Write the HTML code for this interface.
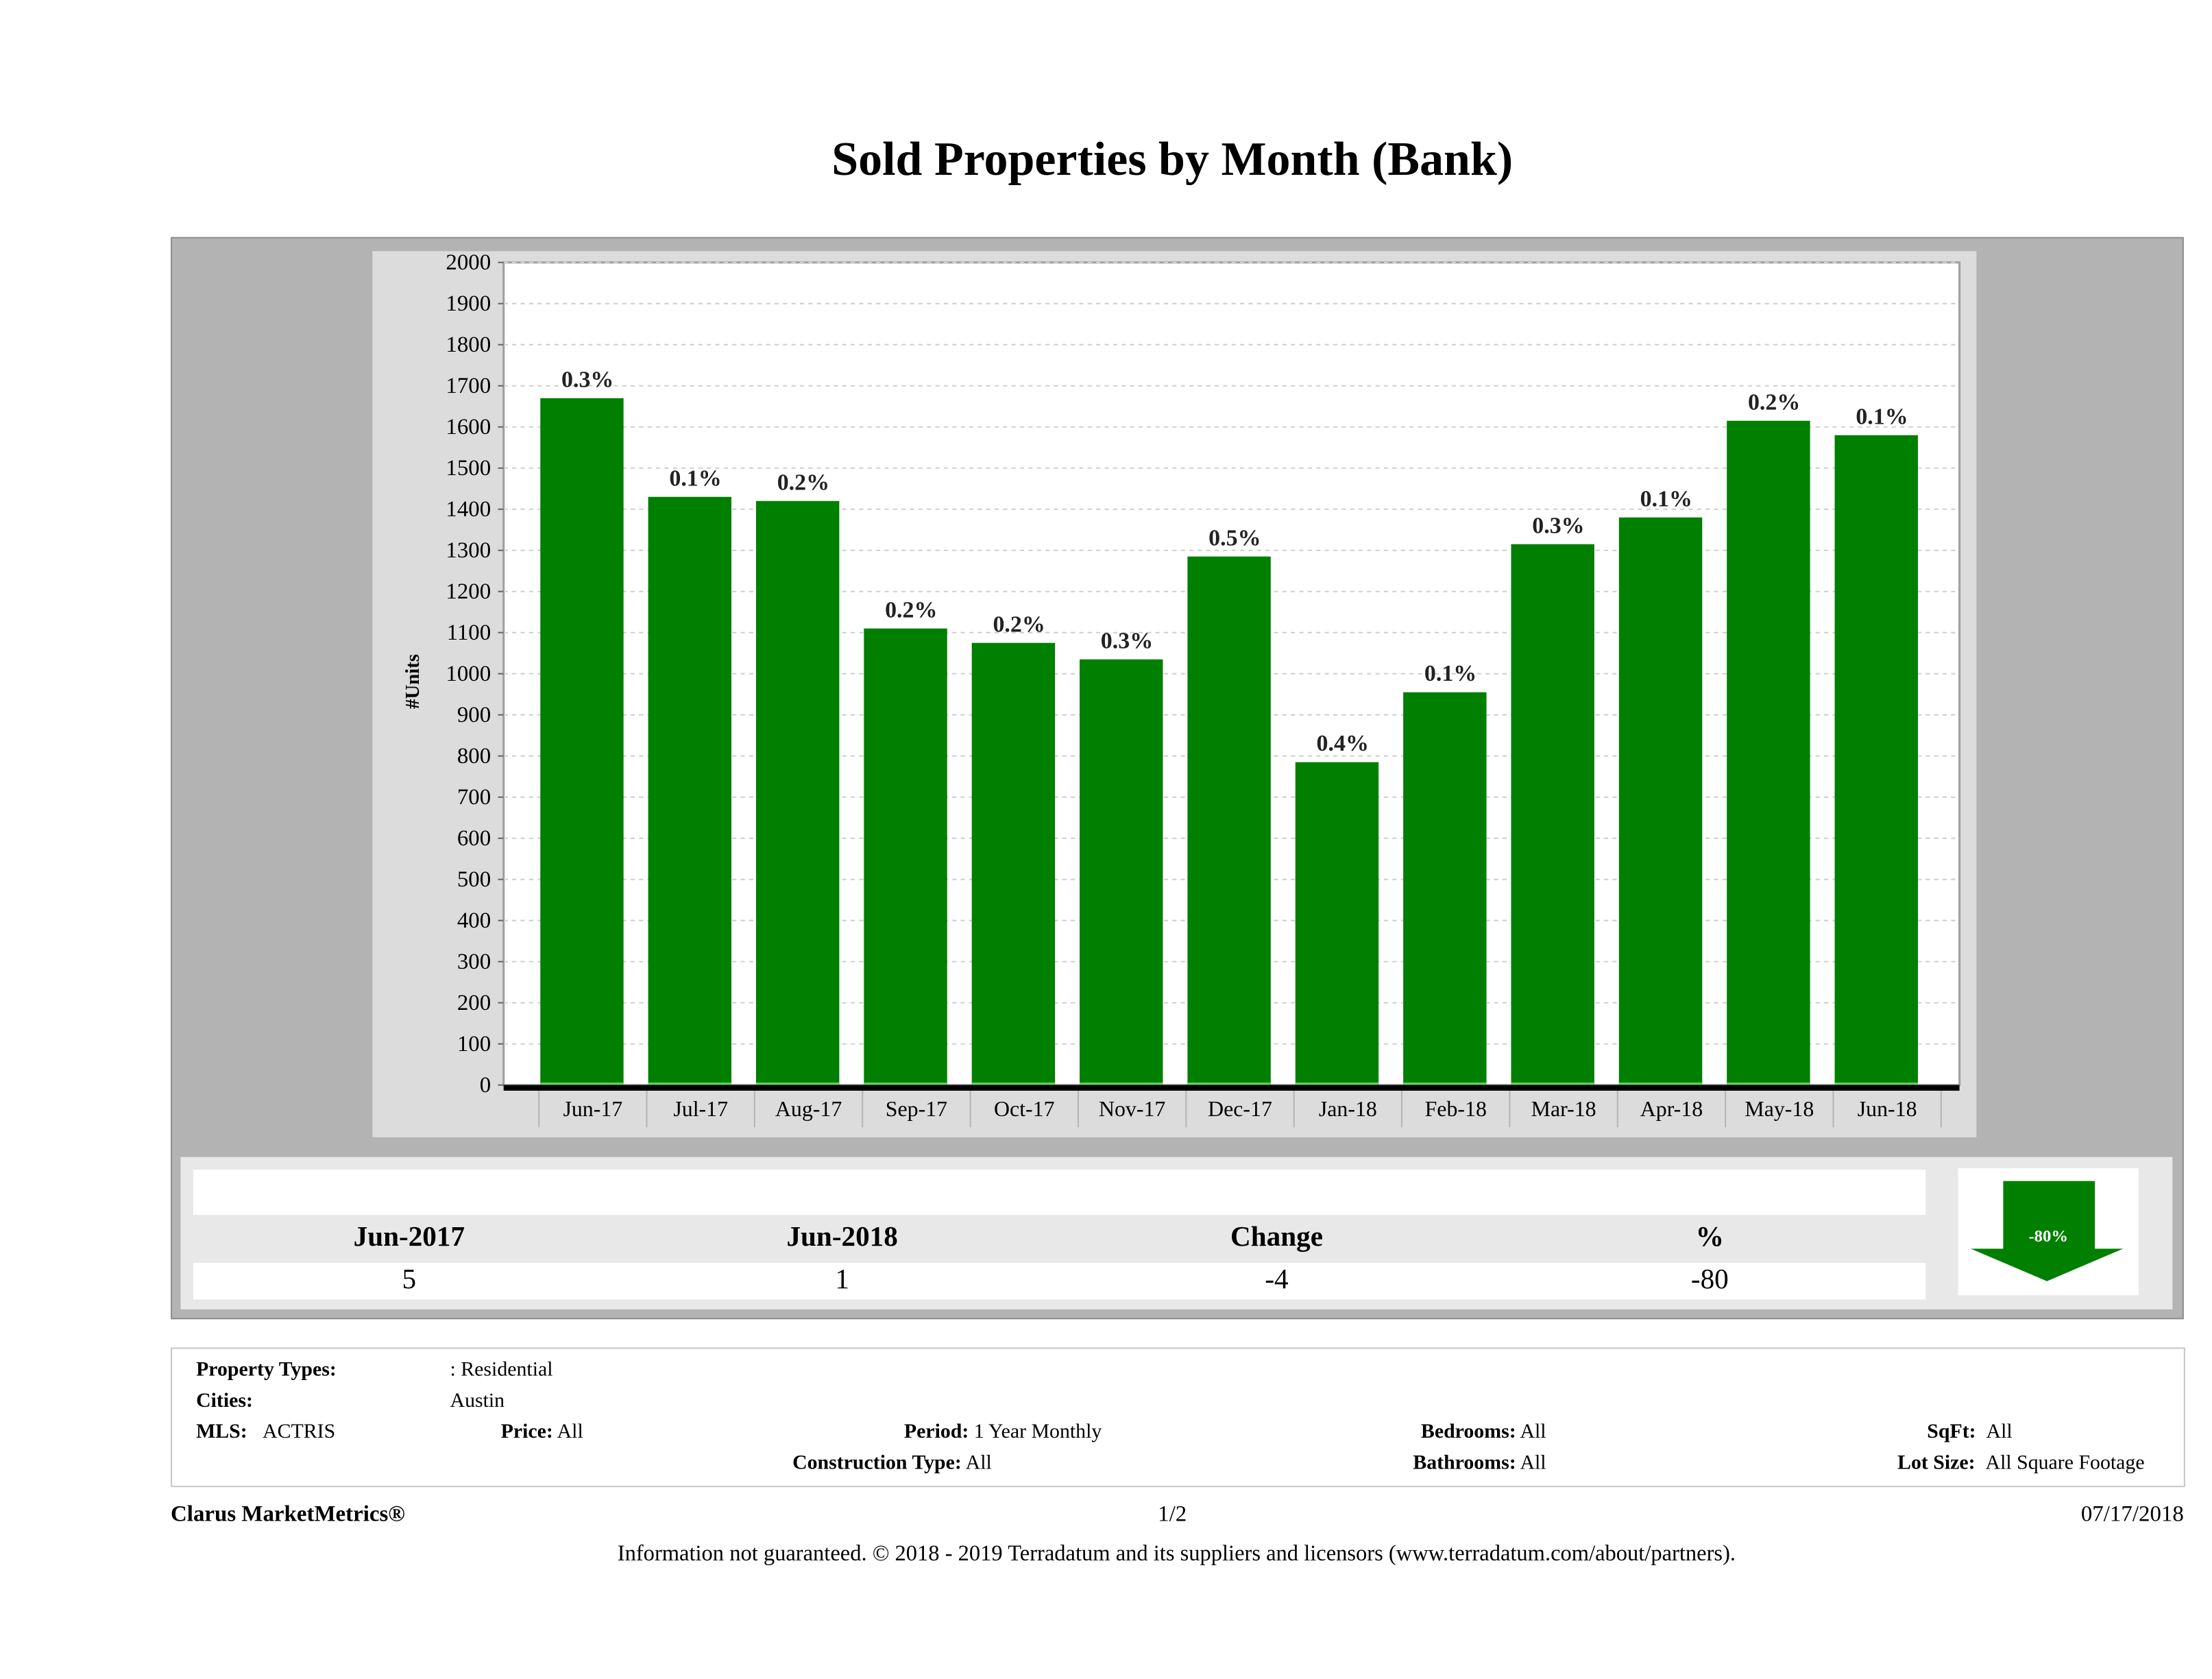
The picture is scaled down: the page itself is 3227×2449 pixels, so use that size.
<!DOCTYPE html>
<html><head><meta charset="utf-8">
<style>
html,body{margin:0;padding:0;background:#fff;}
body{width:3227px;height:2448px;overflow:hidden;position:relative;}
#stage{position:absolute;left:0;top:0;width:1568px;height:1190px;transform:scale(2.05804);transform-origin:0 0;font-family:"Liberation Serif",serif;color:#000;}
.abs{position:absolute;}
.info{position:absolute;font-size:14.5px;white-space:nowrap;}
.info b{font-weight:bold;}
</style></head>
<body>
<div id="stage">
  <div class="abs" style="left:0;width:1662px;top:95px;text-align:center;font-size:34px;font-weight:bold;">Sold Properties by Month (Bank)</div>

  <div class="abs" style="left:121px;top:168px;width:1425px;height:765px;background:#b3b3b3;border:1px solid #8f8f8f;"></div>
  <div class="abs" style="left:264px;top:178px;width:1137px;height:628px;background:#dcdcdc;"></div>

  <svg class="abs" style="left:0;top:0;" width="1568" height="820" id="chart"></svg>

  <div class="abs" style="left:128px;top:820px;width:1412px;height:108px;background:#e8e8e8;"></div>
  <div class="abs" style="left:137px;top:829px;width:1228px;height:32px;background:#fff;"></div>
  <div class="abs" style="left:137px;top:895px;width:1228px;height:26px;background:#fff;"></div>
  <div class="abs" style="left:190px;width:200px;top:866px;text-align:center;font-size:20px;font-weight:bold;">Jun-2017</div>
  <div class="abs" style="left:497px;width:200px;top:866px;text-align:center;font-size:20px;font-weight:bold;">Jun-2018</div>
  <div class="abs" style="left:805px;width:200px;top:866px;text-align:center;font-size:20px;font-weight:bold;">Change</div>
  <div class="abs" style="left:1112px;width:200px;top:866px;text-align:center;font-size:20px;font-weight:bold;">%</div>
  <div class="abs" style="left:190px;width:200px;top:896px;text-align:center;font-size:20px;">5</div>
  <div class="abs" style="left:497px;width:200px;top:896px;text-align:center;font-size:20px;">1</div>
  <div class="abs" style="left:805px;width:200px;top:896px;text-align:center;font-size:20px;">-4</div>
  <div class="abs" style="left:1112px;width:200px;top:896px;text-align:center;font-size:20px;">-80</div>

  <div class="abs" style="left:1388px;top:828px;width:128px;height:90px;background:#fff;"></div>
  <svg class="abs" style="left:1388px;top:828px;" width="128" height="90">
    <polygon points="32,9 97,9 97,57 117,57 63,80 9,57 32,57" fill="#007f00"/>
    <text x="64" y="52" text-anchor="middle" font-family="Liberation Serif,serif" font-size="12" font-weight="bold" fill="#fff">-80%</text>
  </svg>

  <div class="abs" style="left:121px;top:955px;width:1426px;height:97px;background:#fff;border:1px solid #c8c8c8;"></div>
  <div class="info" style="left:139px;top:963px;"><b>Property Types:</b></div>
  <div class="info" style="left:319px;top:963px;">: Residential</div>
  <div class="info" style="left:139px;top:985px;"><b>Cities:</b></div>
  <div class="info" style="left:319px;top:985px;">Austin</div>
  <div class="info" style="left:139px;top:1007px;"><b>MLS:</b>&nbsp;&nbsp;&nbsp;ACTRIS</div>
  <div class="info" style="left:355px;top:1007px;"><b>Price:</b> All</div>
  <div class="info" style="right:787px;top:1007px;"><b>Period:</b> 1 Year Monthly</div>
  <div class="info" style="right:865px;top:1029px;"><b>Construction Type:</b> All</div>
  <div class="info" style="right:472px;top:1007px;"><b>Bedrooms:</b> All</div>
  <div class="info" style="right:472px;top:1029px;"><b>Bathrooms:</b> All</div>
  <div class="info" style="left:1366px;top:1007px;"><b>SqFt:</b>&nbsp;&nbsp;All</div>
  <div class="info" style="left:1345px;top:1029px;"><b>Lot Size:</b>&nbsp;&nbsp;All Square Footage</div>

  <div class="info" style="left:121px;top:1065px;font-size:16px;"><b>Clarus MarketMetrics®</b></div>
  <div class="info" style="left:810px;width:42px;text-align:center;top:1065px;font-size:16px;">1/2</div>
  <div class="info" style="right:20px;top:1065px;font-size:16px;">07/17/2018</div>
  <div class="info" style="left:0;width:1668px;text-align:center;top:1093px;font-size:15.8px;">Information not guaranteed. © 2018 - 2019 Terradatum and its suppliers and licensors (www.terradatum.com/about/partners).</div>
</div>

<script>
const categories = ["Jun-17","Jul-17","Aug-17","Sep-17","Oct-17","Nov-17","Dec-17","Jan-18","Feb-18","Mar-18","Apr-18","May-18","Jun-18"];
const soldUnits = [1670,1430,1420,1110,1075,1035,1285,785,955,1315,1380,1615,1580];
const pctLabels = ["0.3%","0.1%","0.2%","0.2%","0.2%","0.3%","0.5%","0.4%","0.1%","0.3%","0.1%","0.2%","0.1%"];
const yTicks = [0,100,200,300,400,500,600,700,800,900,1000,1100,1200,1300,1400,1500,1600,1700,1800,1900,2000];

const NS = "http://www.w3.org/2000/svg";
const svg = document.getElementById('chart');
const plotL = 357, plotR = 1389, plotT = 186, plotB = 769;
const yMax = 2000;
const catL = 382, catR = 1376;
const step = (catR - catL) / categories.length;
const barW = 59;
function yScale(v){ return plotB - (v / yMax) * (plotB - plotT); }
function xLeft(i){ return catL + step * i; }
function mk(tag, attrs){ const e = document.createElementNS(NS, tag); for (const k in attrs) e.setAttribute(k, attrs[k]); svg.appendChild(e); return e; }

const plot = mk('rect', {x:plotL, y:plotT, width:plotR-plotL, height:plotB-plotT, fill:'#fff', stroke:'#a0a0a0', 'stroke-width':1.5});



yTicks.forEach(t => {
  const y = yScale(t);
  if (t > 0) {
    const g = mk('line', {x1:plotL, x2:plotR, y1:y, y2:y, stroke:'#cfcfcf', 'stroke-width':1, 'stroke-dasharray':'3,3'});
    
    
  }
  const tk = mk('line', {x1:plotL-4, x2:plotL, y1:y, y2:y, stroke:'#666', 'stroke-width':1});
  
  
  const tx = mk('text', {x:plotL-9, y:y+5, 'text-anchor':'end', 'font-family':'Liberation Serif,serif', 'font-size':16});
  tx.textContent = t;
  
  
});

const yt = mk('text', {x:0, y:0, transform:'translate(297,483) rotate(-90)', 'text-anchor':'middle', 'font-family':'Liberation Serif,serif', 'font-size':14, 'font-weight':'bold'});
yt.textContent = '#Units';



for (let i = 0; i <= categories.length; i++) {
  const x = catL + step * i;
  const s = mk('line', {x1:x, x2:x, y1:plotB+2, y2:plotB+30, stroke:'#b5b5b5', 'stroke-width':1});
  
  
}

categories.forEach((c, i) => {
  const bx = xLeft(i) + 1;
  const y = yScale(soldUnits[i]);
  const b = mk('rect', {x:bx, y:y, width:barW, height:plotB-y, fill:'#007f00'});
  
  
  const bl = mk('line', {x1:bx, x2:bx+barW, y1:plotB-1, y2:plotB-1, stroke:'#66cc66', 'stroke-width':1.5});
  
  
  const l = mk('text', {x:bx+barW/2+4, y:y-8, 'text-anchor':'middle', 'font-family':'Liberation Serif,serif', 'font-size':16.5, 'font-weight':'bold', fill:'#222'});
  l.textContent = pctLabels[i];
  
  
  const xl = mk('text', {x:xLeft(i)+step/2, y:plotB+22, 'text-anchor':'middle', 'font-family':'Liberation Serif,serif', 'font-size':15.5});
  xl.textContent = c;
  
  
});

const ax = mk('line', {x1:plotL, x2:plotR, y1:plotB+2, y2:plotB+2, stroke:'#000', 'stroke-width':4});


</script>
</body></html>
